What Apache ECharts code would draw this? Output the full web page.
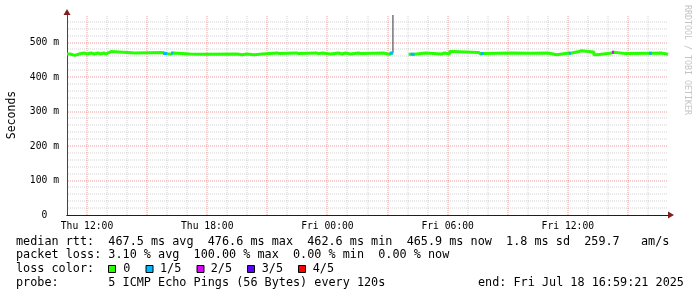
<!DOCTYPE html>
<html><head><meta charset="utf-8">
<script src="https://cdn.jsdelivr.net/npm/echarts@6/dist/echarts.min.js"></script>
<style>html,body{margin:0;padding:0;background:#fff}#c{width:697px;height:297px}</style>
</head><body><div id="c"></div>
<script>
// ---- data (hours since Thu 00:00, median rtt in ms, lost pings out of 5) ----
const times = [11.00,11.15,11.40,11.60,11.85,12.00,12.20,12.35,12.55,12.65,12.85,12.95,13.05,13.20,14.40,15.80,16.00,16.20,16.30,17.15,17.65,19.50,19.75,19.95,20.35,20.75,21.50,21.60,22.45,22.55,23.45,23.55,23.75,24.15,24.55,24.75,24.90,25.15,25.55,25.70,26.80,27.00,27.10,27.27,27.30,28.05,28.15,28.35,28.90,29.70,29.85,30.10,30.25,31.55,31.65,31.80,33.15,34.15,35.00,35.45,36.05,36.15,36.55,36.65,37.30,37.45,38.20,38.30,38.90,40.05,40.20,40.65,41.00];
const rtt   = [467,463,467,470,467,470,467,470,467,470,467,470,474,470,471,468,467,470,467,466,467,465,467,465,467,470,468,470,468,470,468,470,467,470,467,470,467,470,468,470,467,466,470,470,null,466,466,470,467,470,467,474,471,467,468,470,469,470,465,470,469,474,476,473,465,470,472,468,469,469,470,466,466];
const loss  = [0,0,0,0,0,0,0,0,0,0,0,0,0,0,0,1,0,1,0,0,0,0,0,0,0,0,0,0,0,0,0,0,0,0,0,0,0,0,0,0,0,0,1,1,0,0,1,0,0,0,0,0,0,0,1,0,0,0,0,0,1,0,0,0,0,0,2,0,0,1,0,0,0];
const smokeHour = [27.27];
const smokeLow  = [470];
const smokeHigh = [580];
const lossColors = ['#26ff00','#00b8ff','#dd00ff','#5e00ff','#ff0000'];
const lossLabels = ['0','1/5','2/5','3/5','4/5'];
const xTickHours  = [12,18,24,30,36];
const xTickLabels = ['Thu 12:00','Thu 18:00','Fri 00:00','Fri 06:00','Fri 12:00'];
const majorHours  = [12,15,18,21,24,27,30,33,36,39];
const yTickValues = [0,100,200,300,400,500];
const yTickLabels = ['0  ','100 m','200 m','300 m','400 m','500 m'];
const xMin = 11, xMax = 41, yMin = 0, yMax = 580;
const statsRtt  = 'median rtt:  467.5 ms avg  476.6 ms max  462.6 ms min  465.9 ms now  1.8 ms sd  259.7   am/s';
const statsLoss = 'packet loss: 3.10 % avg  100.00 % max  0.00 % min  0.00 % now';
const lossTitle = 'loss color:';
const probeText = 'probe:       5 ICMP Echo Pings (56 Bytes) every 120s';
const endText   = 'end: Fri Jul 18 16:59:21 2025';
const yName = 'Seconds';
const watermark = 'RRDTOOL / TOBI OETIKER';

// ---- build ----
const MONO = "'DejaVu Sans Mono', monospace";
const LEG = '11.8px ' + MONO;
const chart = echarts.init(document.getElementById('c'), null, {renderer:'canvas'});

// minor grid positions (every hour / every 20 ms, excluding major ones)
const minorHours = [];
for (let h = xMin + 1; h < xMax; h++) if (majorHours.indexOf(h) < 0) minorHours.push(h);
const minorMs = [];
for (let v = 20; v < yMax; v += 20) if (yTickValues.indexOf(v) < 0) minorMs.push(v);
const majorMs = yTickValues.filter(v => v > 0);

const mainData = times.map((t,i)=> rtt[i]==null ? [t,null] : [t, rtt[i]]);
const lossSeries = [];
for (let L = 1; L < lossColors.length; L++) {
  const d = [];
  for (let i = 0; i < times.length - 1; i++) {
    if (loss[i] === L && rtt[i] != null && rtt[i+1] != null) {
      d.push([times[i], rtt[i]], [times[i+1], rtt[i]], null);
    }
  }
  lossSeries.push({type:'line', data:d, xAxisIndex:0, yAxisIndex:0, symbol:'none', connectNulls:false,
    lineStyle:{color:lossColors[L], width:3}, z:4, silent:true, animation:false});
}
const smokeData = [];
smokeHour.forEach((h,i)=>{ smokeData.push([h, smokeLow[i]], [h, smokeHigh[i]], null); });

const near = (v, arr) => arr.findIndex(a => Math.abs(a - v) < 1e-6);

// dotted grid lines (rrdtool style), positioned via the axes' scales
function gridSeries(hours, values, color) {
  const data = hours.map(h => [h, yMin, 0]).concat(values.map(v => [xMin, v, 1]));
  return {
    type:'custom', xAxisIndex:0, yAxisIndex:0, z:1, silent:true, clip:false,
    encode:{x:0, y:1}, data:data,
    renderItem:(params, api) => {
      const kind = api.value(2);
      let shape;
      if (kind === 0) {
        const h = api.value(0);
        const a = api.coord([h, yMin]), b = api.coord([h, yMax]);
        const x = Math.round(a[0]);
        shape = {x1:x, y1:Math.round(a[1]), x2:x, y2:Math.round(b[1])};
      } else {
        const v = api.value(1);
        const a = api.coord([xMin, v]), b = api.coord([xMax, v]);
        const y = Math.round(a[1]);
        shape = {x1:Math.round(a[0]) + 1, y1:y, x2:Math.round(b[0]), y2:y};
      }
      return {type:'line', shape:shape, silent:true,
        style:{stroke:color, lineWidth:1, lineDash:[1,1], fill:null}};
    }
  };
}

const graphics = [];
graphics.push({type:'text', x:16, y:241.5, style:{text:statsRtt, font:LEG, fill:'#000', verticalAlign:'middle'}});
graphics.push({type:'text', x:16, y:255.3, style:{text:statsLoss, font:LEG, fill:'#000', verticalAlign:'middle'}});
graphics.push({type:'text', x:16, y:269.2, style:{text:lossTitle, font:LEG, fill:'#000', verticalAlign:'middle'}});
const swX = [108.5, 146, 197, 247.5, 298.5];
const lbX = [123.3, 160, 210.7, 261.7, 312.7];
lossColors.forEach((c,i)=>{
  graphics.push({type:'rect', shape:{x:swX[i], y:265.5, width:7, height:7}, style:{fill:c, stroke:'#000', lineWidth:1}});
  graphics.push({type:'text', x:lbX[i], y:269.2, style:{text:lossLabels[i], font:LEG, fill:'#000', verticalAlign:'middle'}});
});
graphics.push({type:'text', x:16, y:283, style:{text:probeText, font:LEG, fill:'#000', verticalAlign:'middle'}});
graphics.push({type:'text', x:478, y:283, style:{text:endText, font:LEG, fill:'#000', verticalAlign:'middle'}});
graphics.push({type:'text', x:687, y:5, rotation:-Math.PI/2, style:{text:watermark, font:'8.3px '+MONO, fill:'#c4c4c4', verticalAlign:'middle', align:'left'}});

const gridPos = {left:67, right:29, top:15, bottom:82, containLabel:false, outerBoundsMode:'none'};
chart.setOption({
  animation:false,
  backgroundColor:'#fff',
  grid:[Object.assign({}, gridPos), Object.assign({}, gridPos)],
  xAxis:[
    {type:'value', gridIndex:0, min:xMin, max:xMax, interval:1, z:2,
     axisLine:{show:true, onZero:false, lineStyle:{color:'#1f1f1f', width:1}},
     axisTick:{show:false},
     axisLabel:{margin:6, color:'#000', fontSize:9.7, fontFamily:MONO,
       formatter:v=>{const k=near(v,xTickHours); return k>=0?xTickLabels[k]:'';}},
     splitLine:{show:false}},
    {type:'value', gridIndex:1, min:xMin, max:xMax, z:1,
     axisLine:{show:true, onZero:false, symbol:['none','triangle'], symbolSize:[7,6], symbolOffset:[0,3], lineStyle:{color:'#801f1f', width:1}},
     axisTick:{show:false}, axisLabel:{show:false}, splitLine:{show:false}}
  ],
  yAxis:[
    {type:'value', gridIndex:0, min:yMin, max:yMax, interval:20, z:2,
     name:yName, nameLocation:'middle', nameGap:49,
     nameTextStyle:{color:'#000', fontSize:11.5, fontFamily:MONO},
     axisLine:{show:true, onZero:false, lineStyle:{color:'#444', width:1}},
     axisTick:{show:false},
     axisLabel:{margin:8, color:'#000', fontSize:9.7, fontFamily:MONO,
       formatter:v=>{const k=near(v,yTickValues); return k>=0?yTickLabels[k]:'';}},
     splitLine:{show:false}},
    {type:'value', gridIndex:1, min:yMin, max:yMax, z:1,
     axisLine:{show:true, onZero:false, symbol:['none','triangle'], symbolSize:[7,6], symbolOffset:[0,3], lineStyle:{color:'#801f1f', width:1}},
     axisTick:{show:false}, axisLabel:{show:false}, splitLine:{show:false}}
  ],
  series:[
    gridSeries(minorHours, minorMs, 'rgba(150,150,150,0.42)'),
    gridSeries(majorHours, majorMs, 'rgba(222,79,79,0.55)'),
    {type:'line', xAxisIndex:0, yAxisIndex:0, data:smokeData, symbol:'none', connectNulls:false,
     lineStyle:{color:'#333', width:1}, z:3, silent:true},
    {type:'line', xAxisIndex:0, yAxisIndex:0, data:mainData, step:'end', symbol:'none', connectNulls:false,
     lineStyle:{color:lossColors[0], width:3}, z:3, silent:true},
    ...lossSeries
  ],
  graphic:graphics
});
</script></body></html>
